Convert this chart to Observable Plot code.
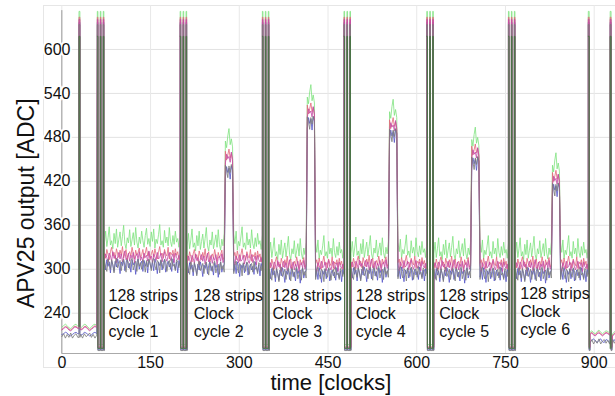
<!DOCTYPE html>
<html><head><meta charset="utf-8">
<script src="https://cdn.jsdelivr.net/npm/d3@7"></script>
<script src="https://cdn.jsdelivr.net/npm/@observablehq/plot@0.6"></script>
<style>body{margin:0;background:#fff;} svg{font-family:"Liberation Sans",Arial,sans-serif;}</style>
</head><body><div id="chart"></div>
<script>
// ---- ticks / labels ----
const xTicks = [0, 150, 300, 450, 600, 750, 900];
const yTicks = [240, 300, 360, 420, 480, 540, 600];
const xTitle = "time [clocks]";
const yTitle = "APV25 output [ADC]";
const cycleLabelX = [79, 223, 356, 497, 638, 775];
const cycleLabelY = [240, 240, 240, 240, 240, 243];
const cycleLabelText = [
  "128 strips\nClock\ncycle 1", "128 strips\nClock\ncycle 2", "128 strips\nClock\ncycle 3",
  "128 strips\nClock\ncycle 4", "128 strips\nClock\ncycle 5", "128 strips\nClock\ncycle 6"];

// ---- traces (drawn in this order) ----
const traceNames = ["green", "blue", "red", "magenta", "gray"];
const traceColors = ["#7fe27f", "#5656c8", "#e4687a", "#c24aa6", "#7a7a7a"];
const traceHigh = [652, 637, 644, 641, 634];
const traceLow = [197, 190, 194, 193, 189];

// frames (header start, end of strips) in clocks
const frameStart = [60, 200, 339, 477, 617, 755];
const frameEnd = [200, 339, 477, 617, 755, 890];
const headerRel   = [0, 1, 1, 5, 5, 6, 6, 10, 10, 11, 11, 12];
const headerLevel = [1, 1, 0, 0, 1, 1, 0, 0, 1, 1, 0, 0];
const tickClock = [29, 890, 927];
const tickWidth = 1.5;

// plateau level per clock cycle
const greenLevel   = [334, 331, 319, 320, 319, 319];
const blueLevel    = [310, 306, 298, 299, 298, 298];
const redLevel     = [321, 318, 308, 309, 308, 308];
const magentaLevel = [317, 314, 305, 306, 305, 305];
const grayLevel    = [312, 308, 300, 301, 300, 300];

// signal (elevated strips) level per clock cycle
const greenPeak   = [null, 470, 530, 510, 472, 437];
const bluePeak    = [null, 438, 505, 488, 450, 414];
const redPeak     = [null, 455, 518, 498, 462, 426];
const magentaPeak = [null, 452, 514, 495, 458, 422];
const grayPeak    = [null, 441, 507, 490, 452, 416];
const peakFrom = 32, peakTo = 38;

// strip-to-strip variation (64 samples over 128 strips)
const greenStrip = [
 2,18,-3,9,24,-1,5,-6,15,1,21,-4,7,17,-2,11,
 26,1,-6,9,2,20,-3,6,16,-1,23,3,-5,10,1,18,
 5,-4,12,22,0,8,-3,17,4,21,-5,7,1,13,27,-1,
 5,-4,19,2,10,-2,23,4,-3,12,0,18,3,8,-4,16];
const blueStrip = [
 -2,-11,3,-6,0,-15,2,-4,-13,1,-7,4,-3,-16,0,-5,
 2,-12,-1,5,-8,-2,-14,3,-4,0,-17,-1,4,-10,-3,1,
 -13,2,-6,0,-15,3,-3,-9,1,-12,4,-2,-16,0,-5,2,
 -11,-1,3,-14,-4,1,-7,-2,-13,4,-3,-10,0,-15,2,-5];
const redStrip = [
 1,-6,6,-1,-8,3,9,-3,2,-7,7,0,-5,5,-2,10,
 -6,1,6,-8,-1,3,-3,9,0,-7,5,-2,2,8,-5,-1,
 6,-6,1,9,-3,3,-8,0,5,-5,7,-1,-7,2,10,-2,
 1,-6,6,0,-3,9,-7,2,-1,5,-5,7,-2,3,-8,1];
const magentaStrip = [
 -3,4,-1,-7,5,1,-6,7,-2,2,-8,0,6,-3,4,-7,
 1,8,-4,-1,5,-6,2,-2,6,-8,1,4,-3,7,-5,0,
 -7,5,-1,2,-6,8,-2,1,-8,4,0,-5,6,-3,-1,5,
 -7,2,7,-2,-6,1,6,-5,0,4,-8,5,-1,-4,2,-6];
const grayStrip = [
 0,-9,-15,2,-4,-12,1,-6,-17,-2,3,-10,-5,0,-14,-3,
 2,-7,-16,1,-4,-11,0,3,-13,-6,-1,-15,2,-8,-3,-12,
 1,-5,-16,0,-9,2,-4,-14,-1,3,-7,-13,0,-3,-17,1,
 -6,-11,2,-2,-15,-4,0,-12,3,-8,-5,-14,1,-2,-10,0];

// idle baseline before first frame
const baseClock = [0,3,6,9,12,15,18,21,24,27,32,35,38,41,44,47,50,53,56,59];
const greenBase   = [221,223,225,223,220,219,221,224,225,222,220,222,225,224,221,219,221,224,225,223];
const blueBase    = [211,212,214,213,210,209,211,213,214,212,210,211,214,213,211,209,210,213,214,212];
const redBase     = [218,220,222,221,218,217,219,222,222,220,218,219,222,222,219,217,219,221,223,221];
const magentaBase = [217,219,221,220,217,216,218,221,221,219,217,218,221,221,218,216,218,220,222,220];
const grayBase    = [208,212,206,211,207,213,206,210,212,207,211,206,212,208,210,213,207,211,206,210];

// idle baseline after last frame
const endClock = [893,896,899,902,905,908,911,914,917,920,923,926,931,934,936];
const greenEnd   = [214,216,213,212,215,217,214,212,214,216,215,213,212,214,216];
const blueEnd    = [201,203,205,202,200,203,205,201,200,204,203,200,202,204,201];
const redEnd     = [212,214,211,210,213,215,212,210,212,214,213,211,210,212,214];
const magentaEnd = [211,213,210,209,212,213,211,209,211,213,212,210,209,211,213];
const grayEnd    = [199,204,198,203,199,205,198,202,204,199,203,198,204,199,202];

const overlayColor = "#4a7446";
const overlayHigh = 618, overlayLow = 192;

// title positions (data coordinates)
const yTitleX = -60, yTitleY = 390;
const xTitleX = 455;

// ---- assemble ----
const levels = [greenLevel, blueLevel, redLevel, magentaLevel, grayLevel];
const peaks = [greenPeak, bluePeak, redPeak, magentaPeak, grayPeak];
const strips = [greenStrip, blueStrip, redStrip, magentaStrip, grayStrip];
const bases = [greenBase, blueBase, redBase, magentaBase, grayBase];
const ends = [greenEnd, blueEnd, redEnd, magentaEnd, grayEnd];

function build(k) {
  const pts = [];
  const hi = traceHigh[k], lo = traceLow[k];
  const P = (t, v) => pts.push({t, v});
  const last = () => pts[pts.length - 1].v;
  let ticked = false;
  baseClock.forEach((t, i) => {
    if (!ticked && t > tickClock[0]) {
      const v = last();
      P(tickClock[0], v); P(tickClock[0], hi); P(tickClock[0] + tickWidth, hi); P(tickClock[0] + tickWidth, v);
      ticked = true;
    }
    P(t, bases[k][i]);
  });
  frameStart.forEach((s, f) => {
    headerRel.forEach((r, j) => P(s + r, headerLevel[j] ? hi : lo));
    const e = frameEnd[f], n = strips[k].length, pk = peaks[k][f];
    const s0 = s + headerRel[headerRel.length - 1];
    strips[k].forEach((d, j) => {
      const b = (pk != null && j >= peakFrom && j <= peakTo) ? pk : levels[k][f];
      P(s0 + j * (e - s0) / (n - 1), b + d);
    });
  });
  const t1 = tickClock[1];
  P(t1, hi); P(t1 + tickWidth, hi); P(t1 + tickWidth, lo); P(t1 + 2 * tickWidth, lo);
  let ticked2 = false;
  endClock.forEach((t, i) => {
    if (!ticked2 && t > tickClock[2]) {
      const v = last(), t2 = tickClock[2];
      P(t2, v); P(t2, hi); P(t2 + tickWidth, hi); P(t2 + tickWidth, lo); P(t2 + 2 * tickWidth, lo);
      ticked2 = true;
    }
    P(t, ends[k][i]);
  });
  return pts;
}

function buildOverlay() {
  const pts = []; let seg = 0;
  const Q = (t, v) => pts.push({t, v, seg});
  const t0 = tickClock[0];
  Q(t0, greenBase[9]); Q(t0, overlayHigh); Q(t0 + tickWidth, overlayHigh); Q(t0 + tickWidth, greenBase[9]); seg++;
  frameStart.forEach(s => {
    headerRel.slice(0, -1).forEach((r, j) => Q(s + r, headerLevel[j] ? overlayHigh : overlayLow));
    seg++;
  });
  const t1 = tickClock[1];
  Q(t1, overlayHigh); Q(t1 + tickWidth, overlayHigh); Q(t1 + tickWidth, overlayLow); seg++;
  const t2 = tickClock[2];
  Q(t2, overlayLow); Q(t2, overlayHigh); Q(t2 + tickWidth, overlayHigh); Q(t2 + tickWidth, overlayLow); seg++;
  return pts;
}

const overlayData = buildOverlay();
const traceMarks = traceNames.map((_, k) =>
  Plot.line(build(k), {x: "t", y: "v", stroke: traceColors[k], strokeWidth: 0.9, strokeOpacity: 0.9}));
const font = "Liberation Sans, Arial, sans-serif";

const chart = Plot.plot({
  width: 615, height: 396,
  marginLeft: 43, marginRight: 0, marginTop: 5, marginBottom: 43,
  style: {fontFamily: font, background: "#fff", color: "#111"},
  x: {domain: [-31, 936], axis: null},
  y: {domain: [185, 660], axis: null},
  marks: [
    Plot.frame({stroke: "#e6e6e6", insetBottom: -14}),
    Plot.gridY(yTicks, {stroke: "#e2e2e2", strokeOpacity: 1}),
    Plot.gridX(xTicks, {stroke: "#e8e8e8", strokeOpacity: 1}),
    Plot.ruleX([0], {y1: 185, y2: 653, stroke: "#9a9a9a"}),
    Plot.ruleY([185], {x1: 0, x2: 936, stroke: "#aaaaaa"}),
    ...traceMarks,
    Plot.line(overlayData, {x: "t", y: "v", z: "seg", stroke: overlayColor, strokeWidth: 1}),
    Plot.text(yTicks, {y: d => d, frameAnchor: "left", textAnchor: "end", dx: 27, fontSize: 16,
      fill: "#111", stroke: "white", strokeWidth: 4, paintOrder: "stroke"}),
    Plot.text(xTicks, {x: d => d, frameAnchor: "bottom", lineAnchor: "middle", dy: 9, fontSize: 16, fill: "#111"}),
    Plot.text(cycleLabelX, {x: d => d, y: (d, i) => cycleLabelY[i], text: (d, i) => cycleLabelText[i],
      textAnchor: "start", lineAnchor: "middle", lineHeight: 1.15, fontSize: 16, fill: "#111"}),
    Plot.text([xTitle], {x: () => xTitleX, frameAnchor: "bottom", lineAnchor: "middle", dy: 29, fontSize: 22, fill: "#111"}),
    Plot.text([yTitle], {x: () => yTitleX, y: () => yTitleY, rotate: -90, lineAnchor: "middle", fontSize: 23, fill: "#111"})
  ]
});
document.getElementById("chart").appendChild(chart);
</script></body></html>
